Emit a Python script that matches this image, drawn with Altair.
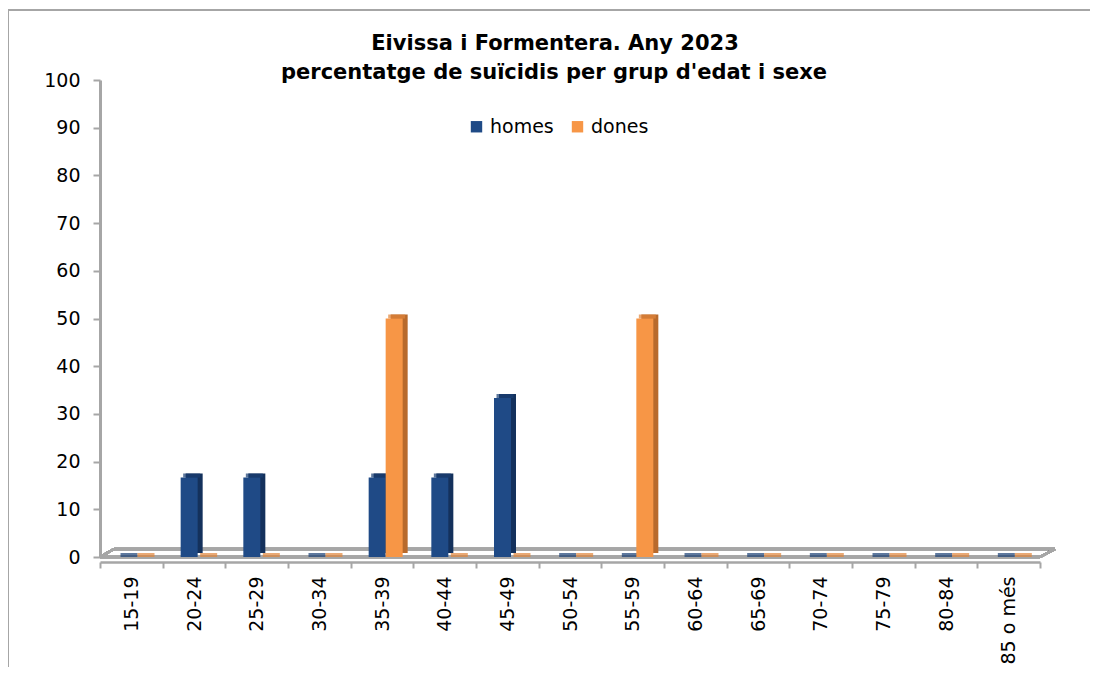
import altair as alt
import pandas as pd

categories = ["15-19", "20-24", "25-29", "30-34", "35-39", "40-44", "45-49", "50-54",
              "55-59", "60-64", "65-69", "70-74", "75-79", "80-84", "85 o més"]
homes = [0, 16.67, 16.67, 0, 16.67, 16.67, 33.33, 0, 0, 0, 0, 0, 0, 0, 0]
dones = [0, 0, 0, 0, 50, 0, 0, 0, 50, 0, 0, 0, 0, 0, 0]
series = ["homes", "dones"]
colors = ["#1F4A86", "#F79646"]
top_colors = ["#1A3F73", "#E0843A"]
side_colors = ["#14315C", "#B86A2C"]
y_ticks = [0, 10, 20, 30, 40, 50, 60, 70, 80, 90, 100]
title_line1 = "Eivissa i Formentera. Any 2023"
title_line2 = "percentatge de suïcidis per grup d'edat i sexe"

rows = []
for i, c in enumerate(categories):
    rows.append({"edat": c, "sexe": "homes", "valor": homes[i]})
    rows.append({"edat": c, "sexe": "dones", "valor": dones[i]})
df = pd.DataFrame(rows)

W, H = 940, 477
FONT = "DejaVu Sans"
g = "#A6A6A6"

x_enc = alt.X("edat:N", sort=categories, title=None,
              scale=alt.Scale(paddingInner=0, paddingOuter=0),
              axis=alt.Axis(labelAngle=-90, labelFontSize=19, labelFont=FONT, labelColor="#000000",
                            labelPadding=8, tickBand="extent", tickSize=6, tickWidth=2,
                            tickColor=g, domainColor=g, domainWidth=2.5, offset=5))


def xoff(r0):
    return alt.XOffset("sexe:N", sort=series,
                       scale=alt.Scale(domain=series, range=[r0, r0 + 34], paddingInner=0, paddingOuter=0))


y_enc = alt.Y("valor:Q", title=None, scale=alt.Scale(domain=[0, 100]),
              axis=alt.Axis(values=y_ticks, labelFontSize=19, labelFont=FONT,
                            labelColor="#000000", grid=False, domainColor=g, domainWidth=3,
                            tickColor=g, tickWidth=2, tickSize=7, labelPadding=13))

color_side = alt.Color("sexe:N", sort=series, scale=alt.Scale(domain=series, range=side_colors), legend=None)
color_top = alt.Color("sexe:N", sort=series, scale=alt.Scale(domain=series, range=top_colors), legend=None)
color_main = alt.Color("sexe:N", sort=series, scale=alt.Scale(domain=series, range=colors),
                       legend=alt.Legend(title=None, orient="none", direction="horizontal",
                                         legendX=367, legendY=37, symbolType="square", symbolSize=130,
                                         labelFontSize=19, labelFont=FONT, labelColor="#000000",
                                         columnPadding=14, padding=0, symbolStrokeWidth=0))

base = alt.Chart(df)

side = base.mark_bar(yOffset=-4).encode(x=x_enc, xOffset=xoff(23), y=y_enc, color=color_side)
top = base.mark_tick(thickness=4, yOffset=-2, size=17).encode(
    x=x_enc, xOffset=xoff(20.5), y=y_enc, color=color_top)
front = base.mark_bar().encode(x=x_enc, xOffset=xoff(18), y=y_enc, color=color_main)

frame_left = alt.Chart(df).mark_rule(color=g, strokeWidth=1.5).encode(
    x=alt.value(-92), y=alt.value(-70), y2=alt.value(H + 140))
frame_top = alt.Chart(df).mark_rule(color=g, strokeWidth=1.5).encode(
    x=alt.value(-92), x2=alt.value(W + 120), y=alt.value(-70))
floor_back = alt.Chart(df).mark_rule(color=g, strokeWidth=2.5).encode(
    x=alt.value(14), x2=alt.value(W + 15), y=alt.value(H - 8))
floor_front = alt.Chart(df).mark_rule(color=g, strokeWidth=2.5).encode(
    x=alt.value(0), x2=alt.value(W), y=alt.value(H))
floor_right = alt.Chart(df).mark_rule(color=g, strokeWidth=2.5).encode(
    x=alt.value(W), x2=alt.value(W + 15), y=alt.value(H), y2=alt.value(H - 8))
floor_left = alt.Chart(df).mark_rule(color=g, strokeWidth=2.5).encode(
    x=alt.value(0), x2=alt.value(14), y=alt.value(H), y2=alt.value(H - 8))

t1 = alt.Chart(pd.DataFrame({"t": [title_line1]})).mark_text(
    fontSize=21, fontWeight="bold", font=FONT, color="#000000", align="center", baseline="middle"
).encode(text="t:N", x=alt.value(455), y=alt.value(-36))
t2 = alt.Chart(pd.DataFrame({"t": [title_line2]})).mark_text(
    fontSize=21, fontWeight="bold", font=FONT, color="#000000", align="center", baseline="middle"
).encode(text="t:N", x=alt.value(454), y=alt.value(-7))

chart = alt.layer(
    frame_left, frame_top, floor_back, floor_left, floor_right, floor_front, side, top, front, t1, t2
).resolve_scale(color="independent", xOffset="independent").properties(
    width=W, height=H,
    padding={"left": 92, "top": 72, "right": 50, "bottom": 110},
    autosize=alt.AutoSizeParams(type="none"),
    view=alt.ViewBackground(stroke="transparent", strokeWidth=0),
).configure_view(stroke="transparent", strokeWidth=0).configure(background="white")

chart.save("out.html", embed_options={"renderer": "svg", "actions": False})
